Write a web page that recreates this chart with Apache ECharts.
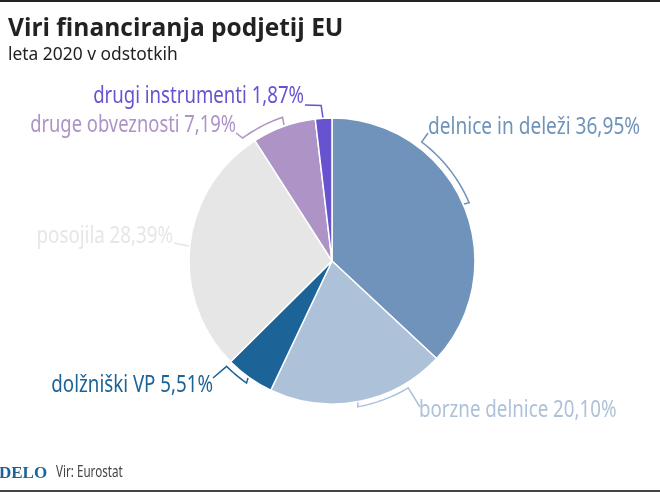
<!DOCTYPE html>
<html>
<head>
<meta charset="utf-8">
<script src="https://cdn.jsdelivr.net/npm/echarts@6/dist/echarts.min.js"></script>
<style>
  html, body { margin: 0; padding: 0; background: #fff; }
  #chart { width: 660px; height: 493px; }
</style>
</head>
<body>
<div id="chart"></div>
<script>
const categories = ['delnice in deleži', 'borzne delnice', 'dolžniški VP', 'posojila', 'druge obveznosti', 'drugi instrumenti'];
const values = [36.95, 20.10, 5.51, 28.39, 7.19, 1.87];
const colors = ['#6f93ba', '#adc1d9', '#1c6397', '#e6e6e6', '#ad93c6', '#6753cf'];

const titleText = 'Viri financiranja podjetij EU';
const subtitleText = 'leta 2020 v odstotkih';
const sourceText = 'Vir: Eurostat';
const logoText = 'DELO';

const cx = 332, cy = 261, radius = 143;
const bodyFont = '"Noto Sans", sans-serif';

// label anchors, in page pixels
const labelPos = [
  { x: 428, y: 127, align: 'left', scale: 0.795 },
  { x: 419, y: 410, align: 'left', scale: 0.78 },
  { x: 213, y: 385, align: 'right', scale: 0.78 },
  { x: 173, y: 236, align: 'right', scale: 0.78 },
  { x: 236, y: 125, align: 'right', scale: 0.765 },
  { x: 304, y: 96, align: 'right', scale: 0.775 }
];

// bracket per slice: angles clockwise from the top, radius, tick towards the pie, leader points
const brackets = [
  { from: 37, to: 67, r: 149, tick: [[464, 204]], start: [[428, 133]] },
  { from: 170, to: 149, r: 148, tick: [[358, 402]], start: [[420, 407]], flip: true },
  { from: 215, to: 225, r: 149, tick: [[248, 378]], start: [[213, 378]], flip: true },
  { from: 276, to: 276, r: 144, tick: [], start: [[174, 243]] },
  { from: 341, to: 324, r: 152, tick: [[284, 125]], start: [[236, 133]], flip: true },
  { from: 356, to: 356, r: 156, tick: [[323, 118]], start: [[305, 105]], flip: true }
];

function polar(angle, r) {
  const a = angle * Math.PI / 180;
  return [cx + r * Math.sin(a), cy - r * Math.cos(a)];
}

function bracketPoints(b) {
  const arc = [];
  const steps = 16;
  for (let i = 0; i <= steps; i++) {
    arc.push(polar(b.from + (b.to - b.from) * i / steps, b.r));
  }
  if (b.flip) return [...b.tick, ...arc, ...b.start];
  return [...b.start, ...arc, ...b.tick];
}

// no condensed face is installed, so the text is squeezed horizontally
function squeezed(text, x, y, align, font, size, color, scaleX, weight) {
  return {
    type: 'text',
    x, y, scaleX,
    style: {
      text, fill: color,
      font: (weight || 'normal') + ' ' + size + 'px ' + font,
      textAlign: align,
      textVerticalAlign: 'middle'
    }
  };
}

const chart = echarts.init(document.getElementById('chart'), null, { renderer: 'canvas' });

chart.setOption({
  backgroundColor: '#ffffff',
  animation: false,
  series: [
    {
      type: 'pie',
      center: [cx, cy],
      radius: [0, radius],
      startAngle: 90,
      clockwise: true,
      silent: true,
      itemStyle: { borderColor: '#ffffff', borderWidth: 1.5 },
      label: { show: false },
      labelLine: { show: false },
      data: categories.map((name, i) => ({
        name,
        value: values[i],
        itemStyle: { color: colors[i] }
      }))
    }
  ],
  graphic: [
    { type: 'rect', shape: { x: 0, y: 0, width: 660, height: 2 }, style: { fill: '#222222' } },
    { type: 'rect', shape: { x: 0, y: 490, width: 660, height: 2 }, style: { fill: '#444444' } },
    squeezed(titleText, 8, 29, 'left', '"Open Sans", sans-serif', 24.5, '#222222', 1, 'bold'),
    squeezed(subtitleText, 8, 55, 'left', bodyFont, 17.4, '#222222', 1),
    squeezed(sourceText, 56, 473, 'left', bodyFont, 15.5, '#444444', 0.75),
    squeezed(logoText, -1, 474, 'left', '"Liberation Serif", serif', 17, '#1c6397', 1, 'bold'),
    ...categories.map((name, i) => squeezed(
      name + ' ' + values[i].toFixed(2).replace('.', ',') + '%',
      labelPos[i].x, labelPos[i].y, labelPos[i].align, bodyFont, 24, colors[i], labelPos[i].scale
    )),
    ...brackets.map((b, i) => ({
      type: 'polyline',
      shape: { points: bracketPoints(b) },
      style: { stroke: colors[i], lineWidth: 1.5, fill: null }
    }))
  ]
});
</script>
</body>
</html>
